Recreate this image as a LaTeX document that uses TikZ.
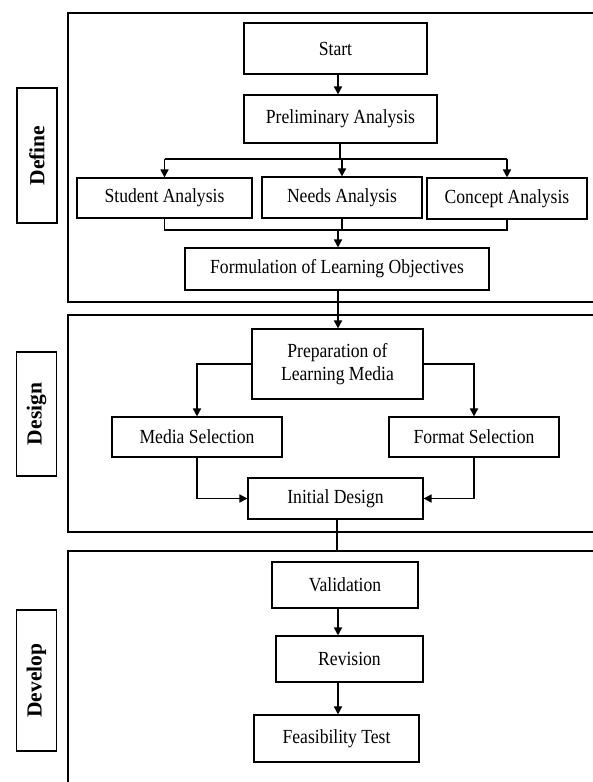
\documentclass[tikz,border=0pt]{standalone}
\usepackage{fontspec}
\setmainfont{Liberation Serif}[FakeStretch=0.88]
\newfontfamily\tagfont{Liberation Serif}
\usepackage{tikz}
\usetikzlibrary{arrows.meta, positioning}

\begin{document}
\begin{tikzpicture}[
  x=1pt, y=-1pt,
  box/.style={rectangle, draw=black, line width=1.1pt, inner sep=2pt,
              align=center, font=\fontsize{20}{23}\selectfont},
  tag/.style={rectangle, draw=black, line width=1.6pt, rotate=90,
              minimum height=40pt, font=\tagfont\bfseries\fontsize{21.5}{24}\selectfont},
  frame/.style={draw=black, line width=1.8pt},
  link/.style={draw=black, line width=1.6pt},
  arr/.style={link, -{Triangle[length=8pt, width=8pt]}}
]
\useasboundingbox (0,0) rectangle (592,782);

% phase frames and side tags
\draw[frame] (595,13) -| (68,302) -- (595,302);
\draw[frame] (595,315) -| (68,532) -- (595,532);
\draw[frame] (595,551) -| (68,785);
\node[tag, minimum width=135pt] (tdefine)  at (37,155.5) {Define};
\node[tag, minimum width=124pt] (tdesign)  at (36.5,414) {Design};
\node[tag, minimum width=141pt] (tdevelop) at (36.5,680.5) {Develop};

% define
\node[box, minimum width=183pt, minimum height=51pt] (start)   at (335.5,48.5) {Start};
\node[box, minimum width=193pt, minimum height=48pt] (prelim)  at (340.5,119) {Preliminary Analysis};
\node[box, minimum width=175pt, minimum height=40pt] (student) at (164.5,198) {Student Analysis};
\node[box, minimum width=160pt, minimum height=41pt] (needs)   at (342,197.5) {Needs Analysis};
\node[box, minimum width=160pt, minimum height=41pt] (concept) at (507,198.5) {Concept Analysis};
\node[box, minimum width=304pt, minimum height=42pt] (formul)  at (337,269) {Formulation of Learning Objectives};

% design
\node[box, minimum width=171pt, minimum height=70pt] (prep)    at (337.5,364) {Preparation of\\Learning Media};
\node[box, minimum width=170pt, minimum height=40pt] (media)   at (197,437) {Media Selection};
\node[box, minimum width=170pt, minimum height=40pt] (format)  at (474,437) {Format Selection};
\node[box, minimum width=175pt, minimum height=41pt] (initial) at (335.5,498.5) {Initial Design};

% develop
\node[box, minimum width=146pt, minimum height=46pt] (valid)    at (345,585) {Validation};
\node[box, minimum width=147pt, minimum height=46pt] (revision) at (349.5,659) {Revision};
\node[box, minimum width=165pt, minimum height=47pt] (feas)     at (336.5,738.5) {Feasibility Test};

% connectors
\coordinate (split) at (340,159);
\coordinate (merge) at (338,230);
\coordinate (gate) at (337,551);
\draw[arr] (start.south -| merge) -- (prelim.north -| merge);
\draw[link] (prelim.south -| split) -- (split);
\draw[link] (student.north |- split) -- (concept.north |- split);
\foreach \n in {student,needs,concept}
  \draw[arr] (\n.north |- split) -- (\n.north);
\draw[link] (student.south) |- (merge) -| (concept.south);
\draw[link] (needs.south) -- (needs.south |- merge);
\draw[arr] (merge) -- (formul.north -| merge);
\draw[arr] (formul.south -| merge) -- (prep.north -| merge);
\draw[arr] (prep.west) -| (media.north);
\draw[arr] (prep.east) -| (format.north);
\draw[arr] (media.south) |- (initial.west);
\draw[arr] (format.south) |- (initial.east);
\draw[link, line width=1.2pt] (initial.south -| gate) -- (gate);
\draw[arr] (valid.south -| merge) -- (revision.north -| merge);
\draw[arr] (revision.south -| merge) -- (feas.north -| merge);
\end{tikzpicture}
\end{document}
